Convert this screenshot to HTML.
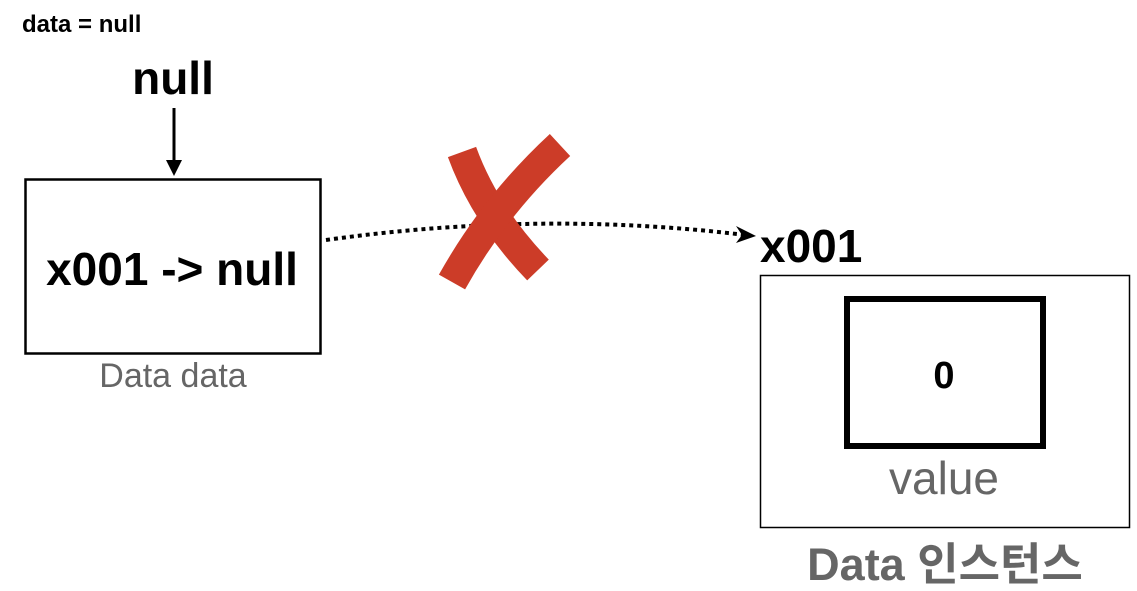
<!DOCTYPE html>
<html><head><meta charset="utf-8"><style>
html,body{margin:0;padding:0;background:#fff;}
svg{display:block}
</style></head><body>
<svg width="1137" height="591" viewBox="0 0 1137 591" xmlns="http://www.w3.org/2000/svg">
<rect width="1137" height="591" fill="#fff"/>
<text x="22" y="32" font-family="Liberation Sans, sans-serif" font-weight="bold" font-size="24" fill="#000">data = null</text>
<text x="173" y="94" text-anchor="middle" font-family="Liberation Sans, sans-serif" font-weight="bold" font-size="46" fill="#000">null</text>
<line x1="174" y1="108" x2="174" y2="165" stroke="#000" stroke-width="3"/>
<polygon points="166,160 174,176 182,160" fill="#000"/>
<rect x="25.5" y="179.5" width="295" height="174" fill="none" stroke="#000" stroke-width="2.5"/>
<text x="172" y="285" text-anchor="middle" font-family="Liberation Sans, sans-serif" font-weight="bold" font-size="46" fill="#000">x001 -&gt; null</text>
<text x="173" y="387" text-anchor="middle" font-family="Liberation Sans, sans-serif" font-size="34" fill="#666">Data data</text>
<path d="M326,240 Q540,210 745,235" fill="none" stroke="#000" stroke-width="4" stroke-dasharray="4,4"/>
<polygon points="736,226 756,236 736,243 742,235" fill="#000"/>
<g stroke="#cc3c28" stroke-width="30" stroke-linecap="butt" fill="none">
<path d="M462,152 Q485,215 538,270"/>
<path d="M560,145 Q495,205 452,282"/>
</g>
<text x="760" y="262" font-family="Liberation Sans, sans-serif" font-weight="bold" font-size="46" fill="#000">x001</text>
<rect x="760.5" y="275.5" width="369" height="252" fill="none" stroke="#000" stroke-width="1.5"/>
<rect x="847" y="299" width="196" height="147" fill="none" stroke="#000" stroke-width="6"/>
<text x="944" y="388" text-anchor="middle" font-family="Liberation Sans, sans-serif" font-weight="bold" font-size="38" fill="#000">0</text>
<text x="944" y="494" text-anchor="middle" font-family="Liberation Sans, sans-serif" font-size="46" fill="#666">value</text>
<text x="945" y="580" text-anchor="middle" font-family="Liberation Sans, 'Noto Sans CJK KR', sans-serif" font-weight="bold" font-size="45" fill="#666">Data 인스턴스</text>
</svg>
</body></html>
